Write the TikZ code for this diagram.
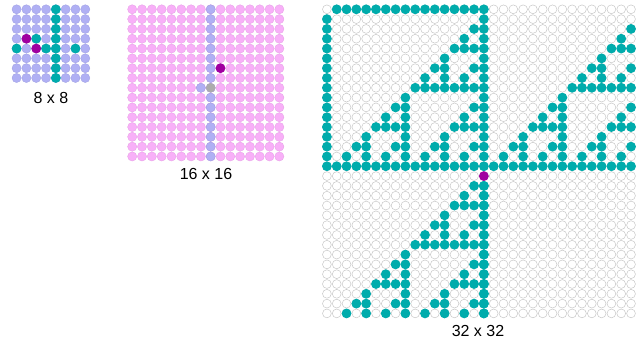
\documentclass[tikz,border=0pt]{standalone}
\usepackage{fontspec}
\setmainfont{Liberation Sans}
\usepackage{tikz}
\definecolor{lavbead}{RGB}{176,176,244}
\definecolor{lavrim}{RGB}{158,158,226}
\definecolor{pinkbead}{RGB}{248,176,248}
\definecolor{pinkrim}{RGB}{228,158,228}
\definecolor{tealbead}{RGB}{0,172,172}
\definecolor{purpbead}{RGB}{160,0,160}
\definecolor{greybead}{RGB}{172,172,172}
\definecolor{ringgrey}{RGB}{200,200,200}

\tikzset{
  lav/.style={fill=lavbead,draw=lavrim,line width=0.3pt},
  pnk/.style={fill=pinkbead,draw=pinkrim,line width=0.3pt},
  emptybead/.style={fill=white,draw=ringgrey,line width=0.5pt},
  gridlabel/.style={font=\fontsize{16}{18}\selectfont}
}

\begin{document}
\begin{tikzpicture}[x=1pt,y=-1pt]
\useasboundingbox (0,0) rectangle (644,346);

% 8 x 8
\begin{scope}[shift={(11.7,4.4)},x=9.81pt,y=-9.81pt]
  \foreach \r in {0,...,7} \foreach \c in {0,...,7}
    \filldraw[lav] (\c+.5,\r+.5) circle (.47);
  \foreach \r in {0,...,7} \fill[tealbead] (4.5,\r+.5) circle (.5);
  \foreach \r/\c in {3/2,4/0,4/3,4/6} \fill[tealbead] (\c+.5,\r+.5) circle (.5);
  \foreach \r/\c in {3/1,4/2} \fill[purpbead] (\c+.5,\r+.5) circle (.5);
\end{scope}
\node[gridlabel] (lab8) at (51,98) {8 x 8};

% 16 x 16
\begin{scope}[shift={(127.3,4.4)},x=9.81pt,y=-9.81pt]
  \foreach \r in {0,...,15} \foreach \c in {0,...,15}
    \filldraw[pnk] (\c+.5,\r+.5) circle (.47);
  \foreach \r in {0,...,15} \filldraw[lav] (8.5,\r+.5) circle (.47);
  \filldraw[lav] (7.5,8.5) circle (.47);
  \fill[greybead] (8.5,8.5) circle (.48);
  \fill[purpbead] (9.5,6.5) circle (.5);
\end{scope}
\node[gridlabel] (lab16) at (206,174) {16 x 16};

% 32 x 32
\begin{scope}[shift={(322,4.4)},x=9.81pt,y=-9.81pt]
  \foreach \r in {0,...,31} \foreach \c in {0,...,31}
    \filldraw[emptybead] (\c+.5,\r+.5) circle (.45);
  \foreach \r/\cs in {
      0/{1,...,16},
      1/{0,16},
      2/{0,15,16,31},
      3/{0,14,16,30},
      4/{0,13,14,15,16,29,30,31},
      5/{0,12,16,28},
      6/{0,11,12,15,16,27,28,31},
      7/{0,10,12,14,16,26,28,30},
      8/{0,9,10,11,12,13,14,15,16,25,26,27,28,29,30,31},
      9/{0,8,16,24},
      10/{0,7,8,15,16,23,24,31},
      11/{0,6,8,14,16,22,24,30},
      12/{0,5,6,7,8,13,14,15,16,21,22,23,24,29,30,31},
      13/{0,4,8,12,16,20,24,28},
      14/{0,3,4,7,8,11,12,15,16,19,20,23,24,27,28,31},
      15/{0,2,...,30},
      16/{0,...,31},
      18/{15,16},
      19/{14,16},
      20/{13,14,15,16},
      21/{12,16},
      22/{11,12,15,16},
      23/{10,12,14,16},
      24/{9,...,16},
      25/{8,16},
      26/{7,8,15,16},
      27/{6,8,14,16},
      28/{5,6,7,8,13,14,15,16},
      29/{4,8,12,16},
      30/{3,4,7,8,11,12,15,16},
      31/{2,4,...,16}}
    \foreach \c in \cs \fill[tealbead] (\c+.5,\r+.5) circle (.5);
  \foreach \r in {18,...,31} \fill[tealbead] (16.5,\r+.5) circle (.5);
  \fill[purpbead] (16.5,17.5) circle (.5);
\end{scope}
\node[gridlabel] (lab32) at (478,331) {32 x 32};
\end{tikzpicture}
\end{document}
